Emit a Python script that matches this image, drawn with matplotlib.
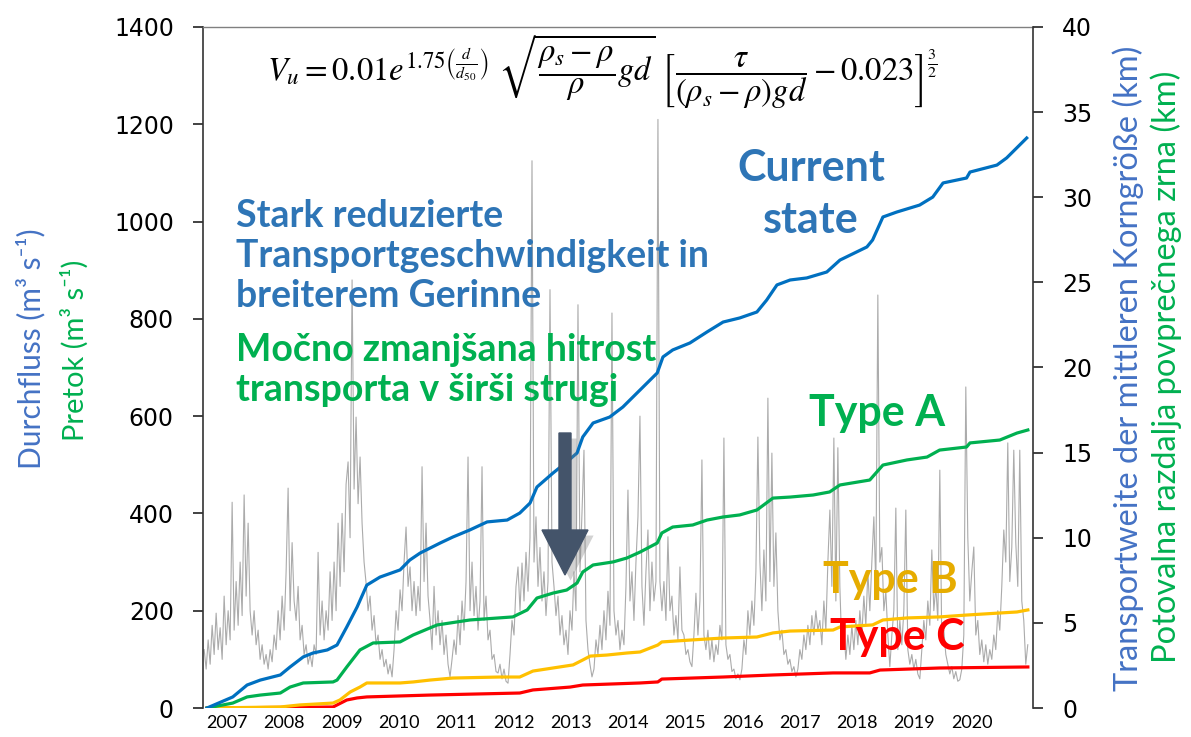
import matplotlib
matplotlib.use('Agg')
import matplotlib.pyplot as plt
import numpy as np
from matplotlib import patheffects
from matplotlib.patches import FancyArrow
from matplotlib.transforms import IdentityTransform

# Discharge (m3/s), one reading every ~12.7 days starting mid-2006
flow_start = 2006.60
flow_step = 0.0349
flow = [
    120, 80, 140, 90, 170, 110, 195, 120, 165, 100,
    230, 130, 200, 140, 423, 160, 260, 170, 300, 190,
    438, 230, 380, 200, 150, 200, 130, 160, 100, 130,
    90, 110, 80, 120, 95, 150, 120, 200, 140, 230,
    160, 280, 452, 200, 340, 220, 180, 250, 140, 170,
    110, 130, 90, 110, 85, 130, 110, 320, 150, 220,
    140, 200, 160, 280, 180, 300, 200, 380, 250, 400,
    280, 460, 506, 350, 880, 450, 598, 420, 516, 380,
    300, 257, 200, 230, 160, 190, 130, 150, 100, 120,
    85, 100, 70, 90, 64, 120, 200, 160, 243, 200,
    300, 372, 250, 290, 200, 260, 190, 250, 200, 496,
    260, 380, 230, 180,
    120, 250, 150, 200, 130, 180, 110, 150, 90, 64,
    100, 140, 110, 190, 130, 220, 160, 260, 516, 200,
    300, 190, 250, 160, 220, 496, 180, 230, 140, 160,
    100, 110, 75, 72, 90, 60, 80, 55, 51, 110,
    180, 150, 250, 290, 200, 298, 220, 320, 240, 350,
    1125, 300, 393, 250, 330, 220, 280, 190, 260, 860,
    300, 250, 190, 230, 150, 190, 130, 160, 110, 200,
    160, 280, 200, 829, 280, 400, 530, 180, 120, 90,
    64, 80, 140, 110, 170, 120, 200, 140, 240, 170,
    812, 200, 150, 180, 120, 160, 130, 250, 448, 220,
    280, 180, 300, 393, 600,
    250, 170, 280, 366, 200, 300, 220, 260, 1210, 260,
    200, 260, 180, 352, 200, 230, 150, 190, 140, 290,
    160, 150, 110, 120, 95, 85, 150, 236, 150, 220,
    510, 150, 120, 160, 100, 140, 95, 130, 110, 170,
    140, 555, 130, 100, 110, 75, 80, 60, 70, 58,
    80, 140, 110, 200, 150, 220, 170, 280, 557, 300,
    200, 325, 220, 637, 260, 524, 250, 360, 200, 140,
    160, 110, 120, 90, 100, 75, 85, 64, 80, 120,
    100, 150, 120, 170, 130, 190, 150, 200, 160, 180,
    130, 220, 160, 300, 407, 250, 555, 220, 535, 250,
    120, 160, 100, 150, 110, 170, 120, 180, 130, 200,
    150, 230, 170, 280, 200, 300, 393, 250, 849, 300,
    330, 200, 240, 150, 85, 150, 200, 411, 120, 180,
    130, 200, 407, 120, 90, 110, 80, 100, 70, 60,
    120, 180, 140, 220, 170, 325, 200, 250, 180, 489,
    130, 160, 110, 90, 70, 85, 60, 75, 55, 58,
    80, 150, 660, 350, 220, 280, 331, 150, 180, 110,
    140, 95, 130, 90, 120, 100, 150, 120, 200, 160,
    250, 366, 300, 545, 260, 330, 530, 340, 250, 530,
    220, 180, 90, 130,
]

# Travel distance of the median grain size (km)
current_years = [2006.65, 2007.10, 2007.35, 2007.58, 2007.93, 2008.10, 2008.33, 2008.50,
                 2008.75, 2008.92, 2009.09, 2009.27, 2009.44, 2009.67, 2010.02, 2010.19,
                 2010.37, 2010.72, 2010.94, 2011.24, 2011.54, 2011.89, 2012.11, 2012.29,
                 2012.41, 2012.69, 2012.93, 2013.11, 2013.21, 2013.39, 2013.68, 2013.91,
                 2014.21, 2014.51, 2014.61, 2014.78, 2015.08, 2015.38, 2015.66, 2015.95,
                 2016.25, 2016.42, 2016.60, 2016.83, 2017.12, 2017.47, 2017.70, 2018.17,
                 2018.27, 2018.45, 2018.69, 2019.09, 2019.32, 2019.50, 2019.91, 2019.97,
                 2020.44, 2020.61, 2020.96]
current_km = [0.0, 0.65, 1.35, 1.64, 1.94, 2.41, 3.00, 3.23,
              3.41, 3.70, 4.76, 5.93, 7.22, 7.69, 8.11, 8.69,
              9.10, 9.69, 10.04, 10.46, 10.93, 11.04, 11.45, 12.04,
              12.98, 13.80, 14.45, 14.98, 15.92, 16.74, 17.09, 17.68,
              18.68, 19.68, 20.62, 21.03, 21.44, 22.09, 22.67, 22.91,
              23.26, 23.96, 24.85, 25.14, 25.26, 25.61, 26.31, 27.08,
              27.49, 28.84, 29.13, 29.54, 30.01, 30.84, 31.13, 31.48,
              31.89, 32.31, 33.48]

type_a_years = [2006.65, 2007.10, 2007.35, 2007.58, 2007.93, 2008.10, 2008.33, 2008.85,
                2008.92, 2009.09, 2009.32, 2009.55, 2010.02, 2010.25, 2010.54, 2010.67,
                2011.24, 2011.99, 2012.24, 2012.41, 2012.69, 2012.93, 2013.11, 2013.21,
                2013.39, 2013.74, 2013.98, 2014.21, 2014.51, 2014.59, 2014.78, 2015.13,
                2015.38, 2015.66, 2015.95, 2016.25, 2016.53, 2016.83, 2017.23, 2017.52,
                2017.70, 2018.22, 2018.45, 2018.87, 2019.22, 2019.44, 2019.91, 2019.97,
                2020.49, 2020.79, 2020.98]
type_a_km = [0.0, 0.29, 0.65, 0.76, 0.88, 1.23, 1.47, 1.53,
             1.64, 2.41, 3.41, 3.82, 3.88, 4.29, 4.70, 4.88,
             5.17, 5.35, 5.76, 6.46, 6.75, 6.93, 7.34, 7.99,
             8.40, 8.58, 8.81, 9.16, 9.69, 10.28, 10.63, 10.75,
             11.04, 11.22, 11.34, 11.63, 12.33, 12.39, 12.51, 12.69,
             13.10, 13.39, 14.27, 14.57, 14.74, 15.15, 15.33, 15.57,
             15.74, 16.15, 16.33]

type_b_years = [2006.65, 2007.93, 2008.27, 2008.85, 2008.97, 2009.15, 2009.32, 2009.44,
                2010.02, 2010.25, 2010.54, 2010.94, 2011.76, 2012.11, 2012.34, 2012.69,
                2013.04, 2013.21, 2013.34, 2013.63, 2013.98, 2014.21, 2014.52, 2014.59,
                2015.08, 2015.66, 2016.25, 2016.53, 2016.83, 2017.58, 2017.70, 2018.27,
                2018.45, 2018.87, 2019.44, 2019.91, 2020.49, 2020.79, 2020.98]
type_b_km = [0.0, 0.06, 0.18, 0.29, 0.47, 0.94, 1.23, 1.47,
             1.47, 1.53, 1.64, 1.76, 1.82, 1.82, 2.17, 2.35,
             2.53, 2.82, 3.05, 3.11, 3.23, 3.29, 3.70, 3.88,
             3.99, 4.11, 4.17, 4.41, 4.52, 4.58, 4.76, 4.88,
             5.17, 5.29, 5.35, 5.46, 5.58, 5.64, 5.76]

type_c_years = [2006.65, 2008.85, 2009.09, 2009.27, 2009.44, 2010.54, 2012.11, 2012.34,
                2012.99, 2013.21, 2014.21, 2014.52, 2014.59, 2015.66, 2016.53, 2017.58,
                2018.22, 2018.40, 2019.44, 2020.98]
type_c_km = [0.0, 0.06, 0.47, 0.59, 0.65, 0.76, 0.88, 1.06,
             1.23, 1.35, 1.47, 1.53, 1.70, 1.82, 1.94, 2.06,
             2.06, 2.23, 2.35, 2.41]

year_ticks = list(range(2007, 2021))

W, H = 1191, 737


def fig_xy(x, y):
    # pixel position (origin top-left) -> figure fraction
    return x / W, 1 - y / H


label_font = ['Lato', 'DejaVu Sans']
plt.rcParams['mathtext.fontset'] = 'stix'

fig = plt.figure(figsize=(W / 100, H / 100), dpi=100)
ax = fig.add_axes([203 / W, 29 / H, 830 / W, 681 / H])

flow_years = flow_start + flow_step * np.arange(len(flow))
ax.plot(flow_years, flow, color='#ABABAB', lw=0.8, zorder=1)
ax.set_xlim(2006.58, 2021.07)
ax.set_ylim(0, 1400)
ax.set_yticks(range(0, 1401, 200))
ax.set_xticks(year_ticks)
ax.set_xticklabels([str(y) for y in year_ticks], fontsize=13,
                   family=['Liberation Sans Narrow', 'Lato'])
ax.tick_params(axis='x', length=0, pad=5)
ax.tick_params(axis='y', labelsize=17, length=7, width=1.2, pad=14, colors='#222222',
               labelcolor='black')
for side in ['bottom', 'right']:
    ax.spines[side].set_visible(False)
ax.spines['left'].set_linewidth(1.2)
ax.spines['left'].set_color('#333333')
ax.spines['top'].set_color('#808080')
ax.spines['top'].set_linewidth(1.0)

ax2 = ax.twinx()
ax2.set_ylim(0, 40)
ax2.set_yticks(range(0, 41, 5))
ax2.tick_params(axis='y', labelsize=17, length=7, width=1.2, pad=14, colors='#222222',
                labelcolor='black')
for side in ['bottom', 'left', 'top']:
    ax2.spines[side].set_visible(False)
ax2.spines['right'].set_linewidth(1.2)
ax2.spines['right'].set_color('#333333')

ax2.plot(type_c_years, type_c_km, color='#FF0000', lw=2.3)
ax2.plot(type_b_years, type_b_km, color='#FFC000', lw=2.3)
ax2.plot(type_a_years, type_a_km, color='#00B050', lw=2.3)
ax2.plot(current_years, current_km, color='#0070C0', lw=2.3)

# axis titles
fig.text(*fig_xy(31, 349), 'Durchfluss (m³ s⁻¹)', rotation=90, ha='center', va='center',
         fontsize=21.5, color='#4472C4', family=label_font)
fig.text(*fig_xy(75, 350), 'Pretok (m³ s⁻¹)', rotation=90, ha='center', va='center',
         fontsize=21, color='#00B050', family=label_font)
fig.text(*fig_xy(1128, 368), 'Transportweite der mittleren Korngröße (km)', rotation=90,
         ha='center', va='center', fontsize=23.5, color='#4472C4', family=label_font)
fig.text(*fig_xy(1166, 367), 'Potovalna razdalja povprečnega zrna (km)', rotation=90,
         ha='center', va='center', fontsize=23.5, color='#00B050', family=label_font)

# transport velocity formula
fig.text(*fig_xy(602, 72),
         r'$V_u = 0.01e^{1.75\left(\frac{d}{d_{50}}\right)}\ '
         r'\sqrt{\dfrac{\rho_s-\rho}{\rho}gd}\ '
         r'\left[\dfrac{\tau}{(\rho_s-\rho)gd}-0.023\right]^{\frac{3}{2}}$',
         ha='center', va='center', fontsize=23.5)

# scenario labels
bold = dict(family=label_font, fontweight='bold')
fig.text(*fig_xy(811, 194), 'Current\nstate', ha='center', va='center', fontsize=31,
         color='#2E75B6', linespacing=1.38, **bold)
fig.text(*fig_xy(236, 256), 'Stark reduzierte\nTransportgeschwindigkeit in\nbreiterem Gerinne',
         ha='left', va='center', fontsize=27, color='#2E75B6', linespacing=1.22, **bold)
fig.text(*fig_xy(236, 370), 'Močno zmanjšana hitrost\ntransporta v širši strugi',
         ha='left', va='center', fontsize=27, color='#00B050', linespacing=1.22, **bold)
fig.text(*fig_xy(877, 413), 'Type A', ha='center', va='center', fontsize=31,
         color='#00B050', **bold)
fig.text(*fig_xy(890, 580), 'Type B', ha='center', va='center', fontsize=31,
         color='#E6AC00', **bold)
fig.text(*fig_xy(897, 637), 'Type C', ha='center', va='center', fontsize=31,
         color='#FF0000', **bold)

# arrow pointing down at the reduced transport period (pixel coordinates)
arrow = FancyArrow(565, H - 433, 0, -142, width=12, head_width=46, head_length=45,
                   length_includes_head=True, color='#44546A', transform=IdentityTransform(),
                   zorder=5)
arrow.set_path_effects([patheffects.SimplePatchShadow(offset=(4, -4), shadow_rgbFace='#7f7f7f',
                                                      alpha=0.35),
                        patheffects.Normal()])
fig.add_artist(arrow)

fig.savefig('out.png', dpi=100)
